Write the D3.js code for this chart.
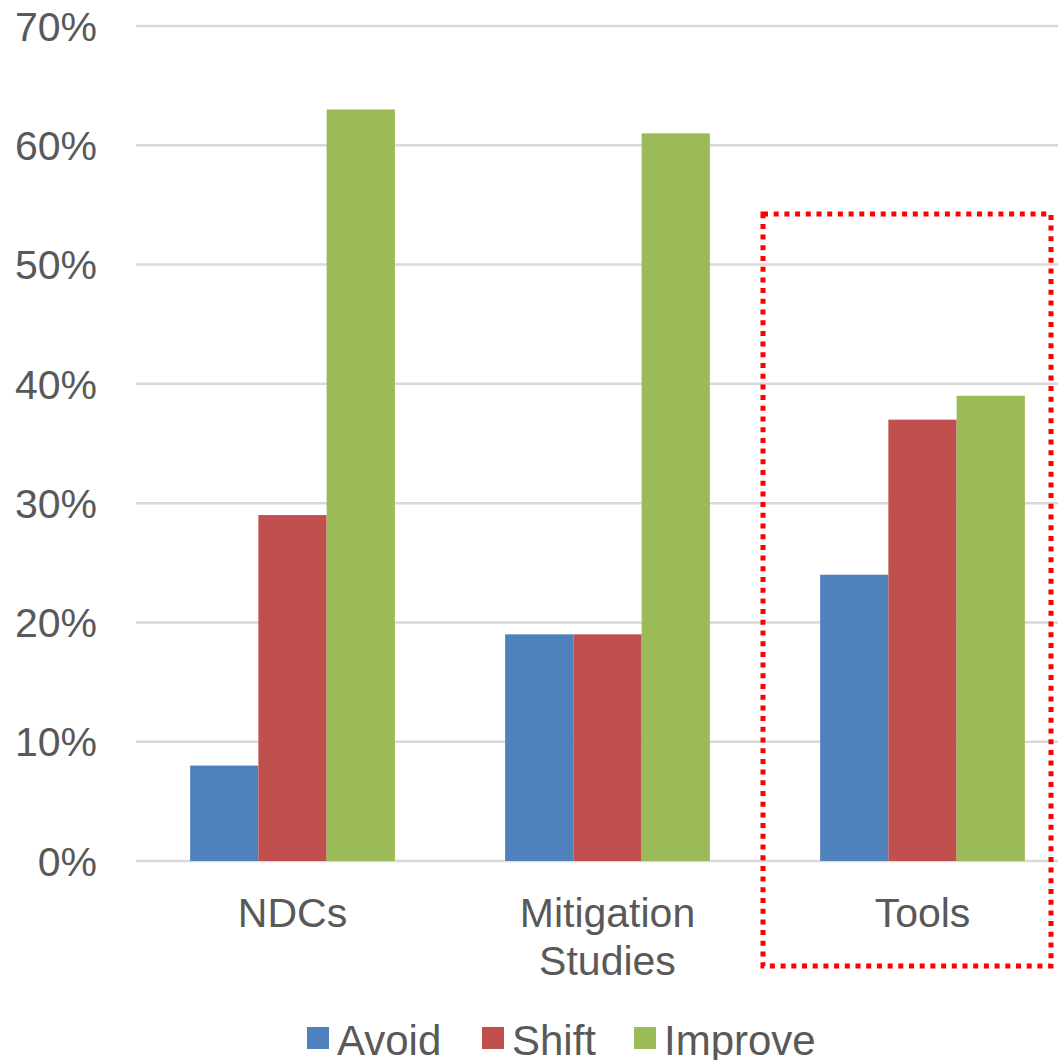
<!DOCTYPE html>
<html lang="en">
<head>
<meta charset="utf-8">
<title>Avoid / Shift / Improve</title>
<script src="https://d3js.org/d3.v7.min.js"></script>
<style type="text/css">
body {
	margin: 0;
	background: #fff;
	font-family: "Liberation Sans", Arial, sans-serif;
}
</style>
</head>
<body>
<div id="vis"></div>
<script>

/* Data */
/* ==== */

var categories = [['NDCs'], ['Mitigation', 'Studies'], ['Tools']];
var series = ['Avoid', 'Shift', 'Improve'];
var colors = ['#4f81bd', '#c0504d', '#9bbb59'];
var avoid = [8, 19, 24];
var shift = [29, 19, 37];
var improve = [63, 61, 39];
var yTicks = [0, 10, 20, 30, 40, 50, 60, 70];

var values = [avoid, shift, improve];


/* SVG and scales */
/* ============== */

var width = 1058,
		height = 1060;

var svg = d3.select('#vis')
	.append('svg')
		.attr('width', width)
		.attr('height', height);

var x = d3.scaleBand()
	.domain(d3.range(categories.length))
	.range([135, 1080])
	.paddingInner(0.35)
	.paddingOuter(0.175);

var xSeries = d3.scaleBand()
	.domain(d3.range(series.length))
	.range([0, x.bandwidth()]);

var y = d3.scaleLinear()
	.domain([0, 70])
	.range([861, 26]);


/* Grid and y labels */
/* ================= */

svg.append('g')
		.selectAll('line')
	.data(yTicks)
	.enter().append('line')
		.attr('x1', 136)
		.attr('x2', width)
		.attr('y1', function(d) { return y(d); })
		.attr('y2', function(d) { return y(d); })
		.style('stroke', '#d9d9d9')
		.style('stroke-width', 2.5);

svg.append('g')
		.selectAll('text')
	.data(yTicks)
	.enter().append('text')
		.attr('x', 97)
		.attr('y', function(d) { return y(d); })
		.attr('dy', '0.36em')
		.attr('text-anchor', 'end')
		.style('font-size', '41px')
		.style('fill', '#595959')
		.text(function(d) { return d + '%'; });


/* Bars */
/* ==== */

var groups = svg.append('g')
		.selectAll('.group')
	.data(categories)
	.enter().append('g')
		.attr('class', 'group')
		.attr('transform', function(d, i) { return 'translate(' + x(i) + ',0)'; });

groups.selectAll('rect')
	.data(function(d, i) { return values.map(function(s, j) { return { s: j, v: s[i] }; }); })
	.enter().append('rect')
		.attr('x', function(d) { return xSeries(d.s); })
		.attr('width', xSeries.bandwidth())
		.attr('y', function(d) { return y(d.v); })
		.attr('height', function(d) { return y(0) - y(d.v); })
		.style('fill', function(d) { return colors[d.s]; });

// category labels
groups.append('text')
		.attr('x', x.bandwidth() / 2)
		.attr('text-anchor', 'middle')
		.style('font-size', '41px')
		.style('fill', '#595959')
	.selectAll('tspan')
	.data(function(d) { return d; })
	.enter().append('tspan')
		.attr('x', x.bandwidth() / 2)
		.attr('y', function(d, i) { return 927 + i * 48; })
		.text(function(d) { return d; });


/* Highlight box round Tools */
/* ========================= */

svg.append('rect')
		.attr('x', 763)
		.attr('y', 214)
		.attr('width', 288)
		.attr('height', 752)
		.style('fill', 'none')
		.style('stroke', '#ff0000')
		.style('stroke-width', 5)
		.style('stroke-dasharray', '5,5.7');


/* Legend */
/* ====== */

var legendX = [307, 482, 634];

var legend = svg.append('g')
		.selectAll('.legend')
	.data(series)
	.enter().append('g')
		.attr('class', 'legend')
		.attr('transform', function(d, i) { return 'translate(' + legendX[i] + ',1027)'; });

legend.append('rect')
		.attr('width', 22)
		.attr('height', 22)
		.style('fill', function(d, i) { return colors[i]; });

legend.append('text')
		.attr('x', 30)
		.attr('y', 28)
		.style('font-size', '42px')
		.style('fill', '#595959')
		.text(function(d) { return d; });

</script>
</body>
</html>
